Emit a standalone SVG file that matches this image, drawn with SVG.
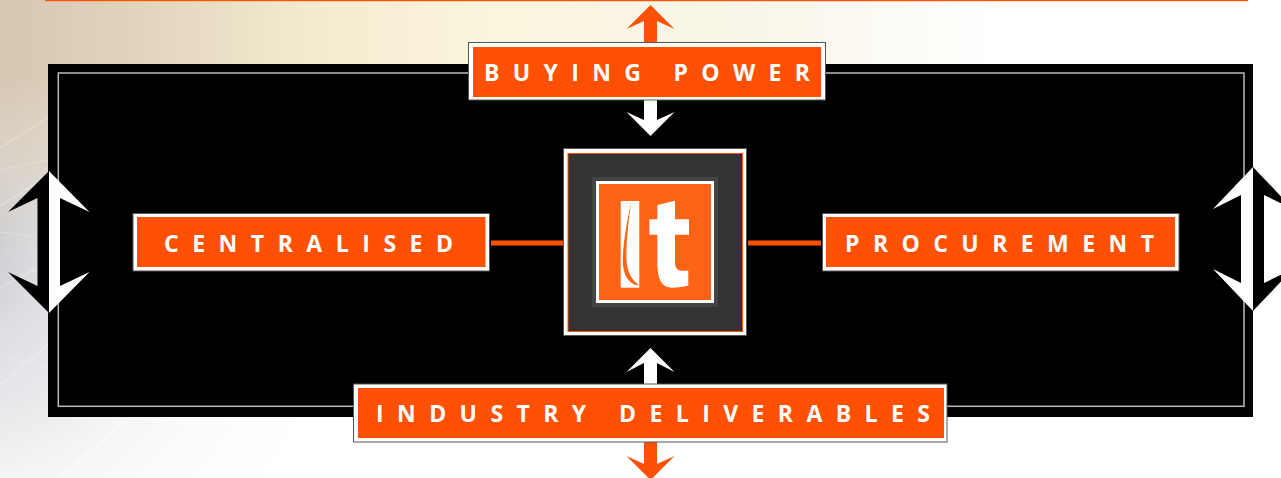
<svg xmlns="http://www.w3.org/2000/svg" width="1281" height="478" viewBox="0 0 1281 478">
<style>
.frame{fill:#fff;stroke:#555;stroke-width:1}
.fill{fill:#ff5003}
.label{font-family:"Open Sans","Liberation Sans",sans-serif;font-weight:700;font-size:23px;fill:#fff}
.link{fill:#ff5003}
.w{fill:#fff}.k{fill:#000}
.sheen{stroke:#fff;fill:none}
</style>
<defs>
<radialGradient id="cool" gradientUnits="userSpaceOnUse" cx="-50" cy="250" r="400">
<stop offset="0" stop-color="#cfcfd1"/><stop offset="0.125" stop-color="#d0d1d3"/><stop offset="0.235" stop-color="#dcdee1"/><stop offset="0.44" stop-color="#e9eaec"/><stop offset="0.58" stop-color="#f4f4f5"/><stop offset="0.75" stop-color="#fbfbfb"/><stop offset="1" stop-color="#fff"/>
</radialGradient>
<linearGradient id="warm" x1="0" y1="0" x2="1" y2="0">
<stop offset="0" stop-color="#d6c6b2"/><stop offset="0.1" stop-color="#e0d3bc"/><stop offset="0.25" stop-color="#f4ecd0"/><stop offset="0.4" stop-color="#fcf6df"/><stop offset="0.6" stop-color="#f9f6ea"/><stop offset="0.78" stop-color="#fff"/><stop offset="1" stop-color="#fff"/>
</linearGradient>
<linearGradient id="fade" x1="0" y1="0" x2="0" y2="1">
<stop offset="0" stop-color="#fff"/><stop offset="0.16" stop-color="#fff"/><stop offset="0.35" stop-color="#888"/><stop offset="0.52" stop-color="#000"/>
</linearGradient>
<mask id="warmMask" maskUnits="userSpaceOnUse" x="0" y="0" width="1281" height="478"><rect width="1281" height="478" fill="url(#fade)"/></mask>
</defs>
<g id="background">
<rect width="1281" height="478" fill="#fff"/>
<rect width="1281" height="478" fill="url(#cool)"/>
<rect width="1281" height="478" fill="url(#warm)" mask="url(#warmMask)"/>
<g class="sheen" stroke-opacity=".22">
<path d="M0 148L48 118M0 206L48 176M0 288L48 262M0 385L48 345" stroke-width="2"/>
<path d="M0 232L48 238M0 170L48 160M0 355L48 368" stroke-width="1"/>
<path d="M60 478L130 417" stroke-width="3" stroke-opacity=".4"/>
</g>
<rect x="45" y="0" width="1203" height="1.2" fill="#ff5003"/>
</g>
<g id="panel">
<rect x="48" y="64" width="1205" height="353" fill="#000"/>
<rect x="58.300" y="73" width="1185.700" height="333.300" fill="none" stroke="#bbb" stroke-width="1.500"/>
</g>
<g id="connectors">
<rect class="link" x="491" y="240.500" width="73" height="5"/>
<rect class="link" x="748" y="240.500" width="73" height="5"/>
<polygon class="link" points="650.500,5 674.500,29 657,21 657,43 644,43 644,21 626.500,29"/>
<polygon class="w" points="644,100 657,100 657,120 674.500,112 650.500,136 626.500,112 644,120"/>
<polygon class="w" points="650.500,348 674.500,372 657,363 657,385 644,385 644,363 626.500,372"/>
<polygon class="link" points="644,442 657,442 657,464 674.500,456 650.500,480 626.500,456 644,464"/>
<g id="left-arrow">
<polygon class="k" points="49,171 49,313 8,272 37.500,286 37.500,198 8,212"/>
<polygon class="w" points="49,171 89.500,212 60,198 60,286 89.500,272 49,313"/>
</g>
<g id="right-arrow">
<polygon class="w" points="1253,167 1253,311 1213,269 1241,283 1241,195 1213,209"/>
<polygon class="k" points="1253,167 1293,209 1264,195 1264,283 1293,269 1253,311"/>
</g>
</g>
<g id="node-buying-power">
<rect class="frame" x="468.500" y="42.500" width="357" height="57.500"/>
<rect class="fill" x="473" y="47" width="348" height="50"/>
<text class="label" x="484" y="80.500" textLength="326" lengthAdjust="spacing">BUYING POWER</text>
</g>
<g id="node-centralised">
<rect class="frame" x="133" y="213.500" width="356.500" height="57.500"/>
<rect class="fill" x="137" y="217" width="348.500" height="50"/>
<text class="label" x="164" y="251.500" textLength="289" lengthAdjust="spacing">CENTRALISED</text>
</g>
<g id="node-procurement">
<rect class="frame" x="822.500" y="213.500" width="356.500" height="57.500"/>
<rect class="fill" x="826" y="217" width="349" height="50"/>
<text class="label" x="845" y="251.500" textLength="309" lengthAdjust="spacing">PROCUREMENT</text>
</g>
<g id="node-industry-deliverables">
<rect class="frame" x="353.500" y="384" width="593.500" height="58"/>
<rect class="fill" x="358" y="388" width="586" height="50"/>
<text class="label" x="376" y="421.500" textLength="554" lengthAdjust="spacing">INDUSTRY DELIVERABLES</text>
</g>
<g id="node-logo">
<rect class="frame" x="563.500" y="148.500" width="183" height="187"/>
<rect x="568" y="153.500" width="174.500" height="178" fill="#333" stroke="#ff5003" stroke-width="1"/>
<rect x="592" y="177" width="126" height="130" fill="#444"/>
<rect x="596" y="181" width="118" height="122" fill="#fff"/>
<rect x="599" y="184" width="112" height="116" fill="#ff6316"/>
<rect class="w" x="620.700" y="201" width="18.600" height="86.700"/>
<path d="M631.500 201.500C626 225 622 250 623 265C624 278 631 285 639.300 285.500C632 280 627 272 626.500 260C626 245 628 222 631.500 201.500Z" fill="#ff6316"/>
<path class="w" d="M657.300 205L675 200.700V219.300H689V234.700H675V261.700C675 268 677 270.700 682 270.700H688.300V285.700C682 287 677 287.700 672 287.700C662 287.700 657.300 280 657.300 262V234.700H649.300V219.300H657.300Z"/>
</g>
</svg>
